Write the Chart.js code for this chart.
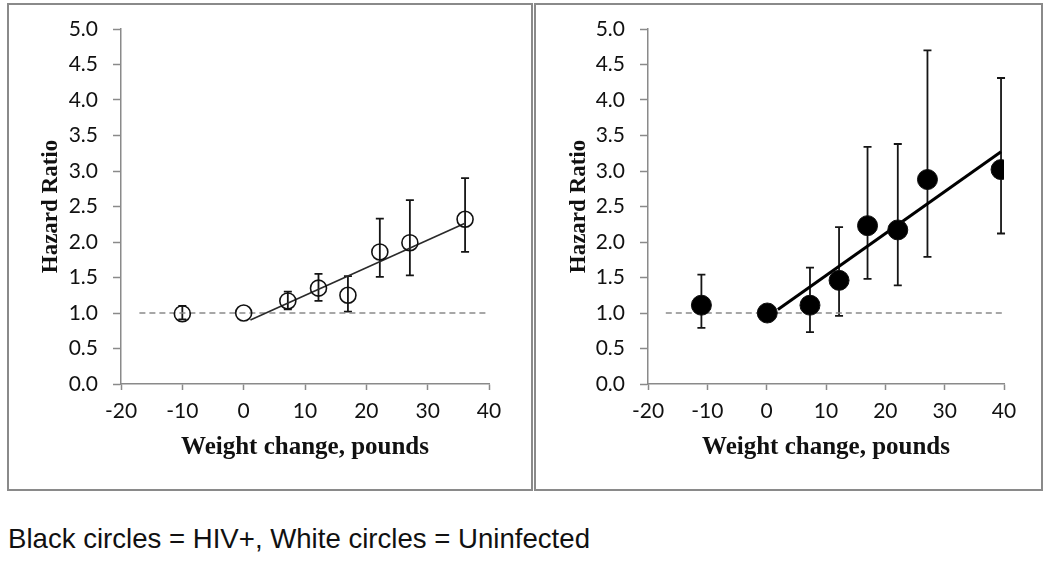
<!DOCTYPE html>
<html>
<head>
<meta charset="utf-8">
<script src="https://cdn.jsdelivr.net/npm/chart.js@4/dist/chart.umd.min.js"></script>
<style>
  html, body { margin: 0; padding: 0; background: #fff; width: 1050px; height: 564px; overflow: hidden; }
  canvas { position: absolute; top: 0; }
  #c1 { left: 0; }
  #c2 { left: 534px; }
  .box { position: absolute; border: 2px solid #8a8a8a; box-sizing: border-box; pointer-events: none; }
  #caption { position: absolute; left: 8px; top: 525px; font-family: "Liberation Sans", Arial, sans-serif; font-size: 27.6px; line-height: 28px; color: #111; white-space: nowrap; }
</style>
</head>
<body>
<canvas id="c1" width="533" height="490"></canvas>
<canvas id="c2" width="516" height="490"></canvas>
<div class="box" style="left:7px; top:3px; width:526px; height:488px;"></div>
<div class="box" style="left:534px; top:3px; width:509px; height:488px;"></div>
<div id="caption">Black circles = HIV+, White circles = Uninfected</div>
<script>
// ---- Data ----
const xTicks = [-20, -10, 0, 10, 20, 30, 40];
const yTicks = [0, 0.5, 1, 1.5, 2, 2.5, 3, 3.5, 4, 4.5, 5];
const xTitle = "Weight change, pounds";
const yTitle = "Hazard Ratio";

// Left panel: uninfected (white circles)
const uninfX  = [-10, 0, 7.2, 12.2, 17.0, 22.2, 27.1, 36.1];
const uninfHR = [0.99, 1.00, 1.17, 1.35, 1.25, 1.86, 1.99, 2.32];
const uninfLo = [0.91, null, 1.05, 1.17, 1.02, 1.51, 1.53, 1.86];
const uninfHi = [1.10, null, 1.30, 1.55, 1.52, 2.33, 2.59, 2.90];
const uninfTrendX = [1.1, 36.0];
const uninfTrendY = [0.90, 2.26];
const uninfRefX = [-17, 40];
const uninfRefY = [1.0, 1.0];

// Right panel: HIV+ (black circles)
const hivX  = [-11.0, 0.1, 7.3, 12.2, 17.0, 22.1, 27.1, 39.5];
const hivHR = [1.11, 1.00, 1.11, 1.46, 2.23, 2.17, 2.88, 3.02];
const hivLo = [0.79, null, 0.73, 0.96, 1.48, 1.39, 1.79, 2.12];
const hivHi = [1.54, null, 1.64, 2.21, 3.34, 3.38, 4.70, 4.31];
const hivTrendX = [1.9, 39.5];
const hivTrendY = [1.05, 3.27];
const hivRefX = [-17, 39.7];
const hivRefY = [1.0, 1.0];

// ---- helpers ----
function pts(xs, ys) { return xs.map((x, i) => ({ x: x, y: ys[i] })); }

const errorBarPlugin = {
  id: 'errorBars',
  beforeDatasetsDraw(chart, args, opts) {
    const { ctx, scales } = chart;
    const xs = scales.x, ys = scales.y;
    ctx.save();
    ctx.strokeStyle = opts.color;
    ctx.lineWidth = opts.width;
    for (let i = 0; i < opts.x.length; i++) {
      if (opts.lo[i] == null || opts.hi[i] == null) continue;
      const px = xs.getPixelForValue(opts.x[i]);
      const pl = ys.getPixelForValue(opts.lo[i]);
      const ph = ys.getPixelForValue(opts.hi[i]);
      ctx.beginPath();
      ctx.moveTo(px, pl); ctx.lineTo(px, ph);
      ctx.moveTo(px - opts.cap, pl); ctx.lineTo(px + opts.cap, pl);
      ctx.moveTo(px - opts.cap, ph); ctx.lineTo(px + opts.cap, ph);
      ctx.stroke();
    }
    ctx.restore();
  }
};

function makeChart(id, cfg) {
  const ctx = document.getElementById(id).getContext('2d');
  return new Chart(ctx, {
    type: 'scatter',
    data: {
      datasets: [
        {
          data: pts(cfg.x, cfg.hr),
          showLine: false,
          pointStyle: 'circle',
          pointRadius: cfg.radius,
          pointBorderWidth: cfg.pointBorder,
          pointBorderColor: '#111',
          pointBackgroundColor: cfg.fill
        },
        {
          type: 'line',
          data: pts(cfg.trendX, cfg.trendY),
          borderColor: cfg.trendColor,
          borderWidth: cfg.trendWidth,
          pointRadius: 0,
          fill: false
        },
        {
          type: 'line',
          data: pts(cfg.refX, cfg.refY),
          borderColor: '#8a8a8a',
          borderWidth: 1.6,
          borderDash: [6, 4],
          pointRadius: 0,
          fill: false
        }
      ]
    },
    options: {
      responsive: false,
      animation: false,
      devicePixelRatio: 1,
      events: [],
      layout: { padding: { left: 0, top: 29, right: cfg.padRight, bottom: 0 } },
      plugins: {
        legend: { display: false },
        tooltip: { enabled: false },
        errorBars: { x: cfg.x, lo: cfg.lo, hi: cfg.hi, cap: 4, width: 1.8, color: '#151515' }
      },
      scales: {
        x: {
          type: 'linear',
          min: xTicks[0], max: xTicks[xTicks.length - 1],
          afterBuildTicks: (s) => { s.ticks = xTicks.map(v => ({ value: v })); },
          afterFit: (s) => { s.height = 106; },
          grid: { drawOnChartArea: false, drawTicks: true, tickLength: 6, tickColor: '#8a8a8a', tickWidth: 1.5 },
          border: { display: true, color: '#8a8a8a', width: 1.5 },
          ticks: {
            padding: 9,
            color: '#111',
            font: { family: 'Lato', size: 21 },
            callback: (v) => String(v)
          },
          title: {
            display: true, text: xTitle, color: '#111',
            font: { family: '"Liberation Serif"', size: 25, weight: 'bold' },
            padding: { top: 0, bottom: 27 }
          }
        },
        y: {
          type: 'linear',
          min: yTicks[0], max: yTicks[yTicks.length - 1],
          afterBuildTicks: (s) => { s.ticks = yTicks.map(v => ({ value: v })); },
          afterFit: (s) => { s.width = cfg.yWidth; },
          grid: { drawOnChartArea: false, drawTicks: true, tickLength: 8, tickColor: '#8a8a8a', tickWidth: 1.5 },
          border: { display: true, color: '#8a8a8a', width: 1.5 },
          ticks: {
            padding: 15,
            color: '#111',
            font: { family: 'Lato', size: 21 },
            callback: (v) => Number(v).toFixed(1)
          },
          title: {
            display: true, text: yTitle, color: '#111',
            font: { family: '"Liberation Serif"', size: 23, weight: 'bold' },
            padding: { top: cfg.yTitlePad, bottom: 0 }
          }
        }
      }
    },
    plugins: [errorBarPlugin]
  });
}

makeChart('c1', {
  x: uninfX, hr: uninfHR, lo: uninfLo, hi: uninfHi,
  trendX: uninfTrendX, trendY: uninfTrendY, refX: uninfRefX, refY: uninfRefY,
  radius: 8, pointBorder: 1.6, fill: 'rgba(0,0,0,0)',
  trendColor: '#2a2a2a', trendWidth: 1.6,
  padRight: 44, yWidth: 121, yTitlePad: 37
});

makeChart('c2', {
  x: hivX, hr: hivHR, lo: hivLo, hi: hivHi,
  trendX: hivTrendX, trendY: hivTrendY, refX: hivRefX, refY: hivRefY,
  radius: 10, pointBorder: 1, fill: '#000',
  trendColor: '#000', trendWidth: 3,
  padRight: 46, yWidth: 114, yTitlePad: 31
});
</script>
</body>
</html>
